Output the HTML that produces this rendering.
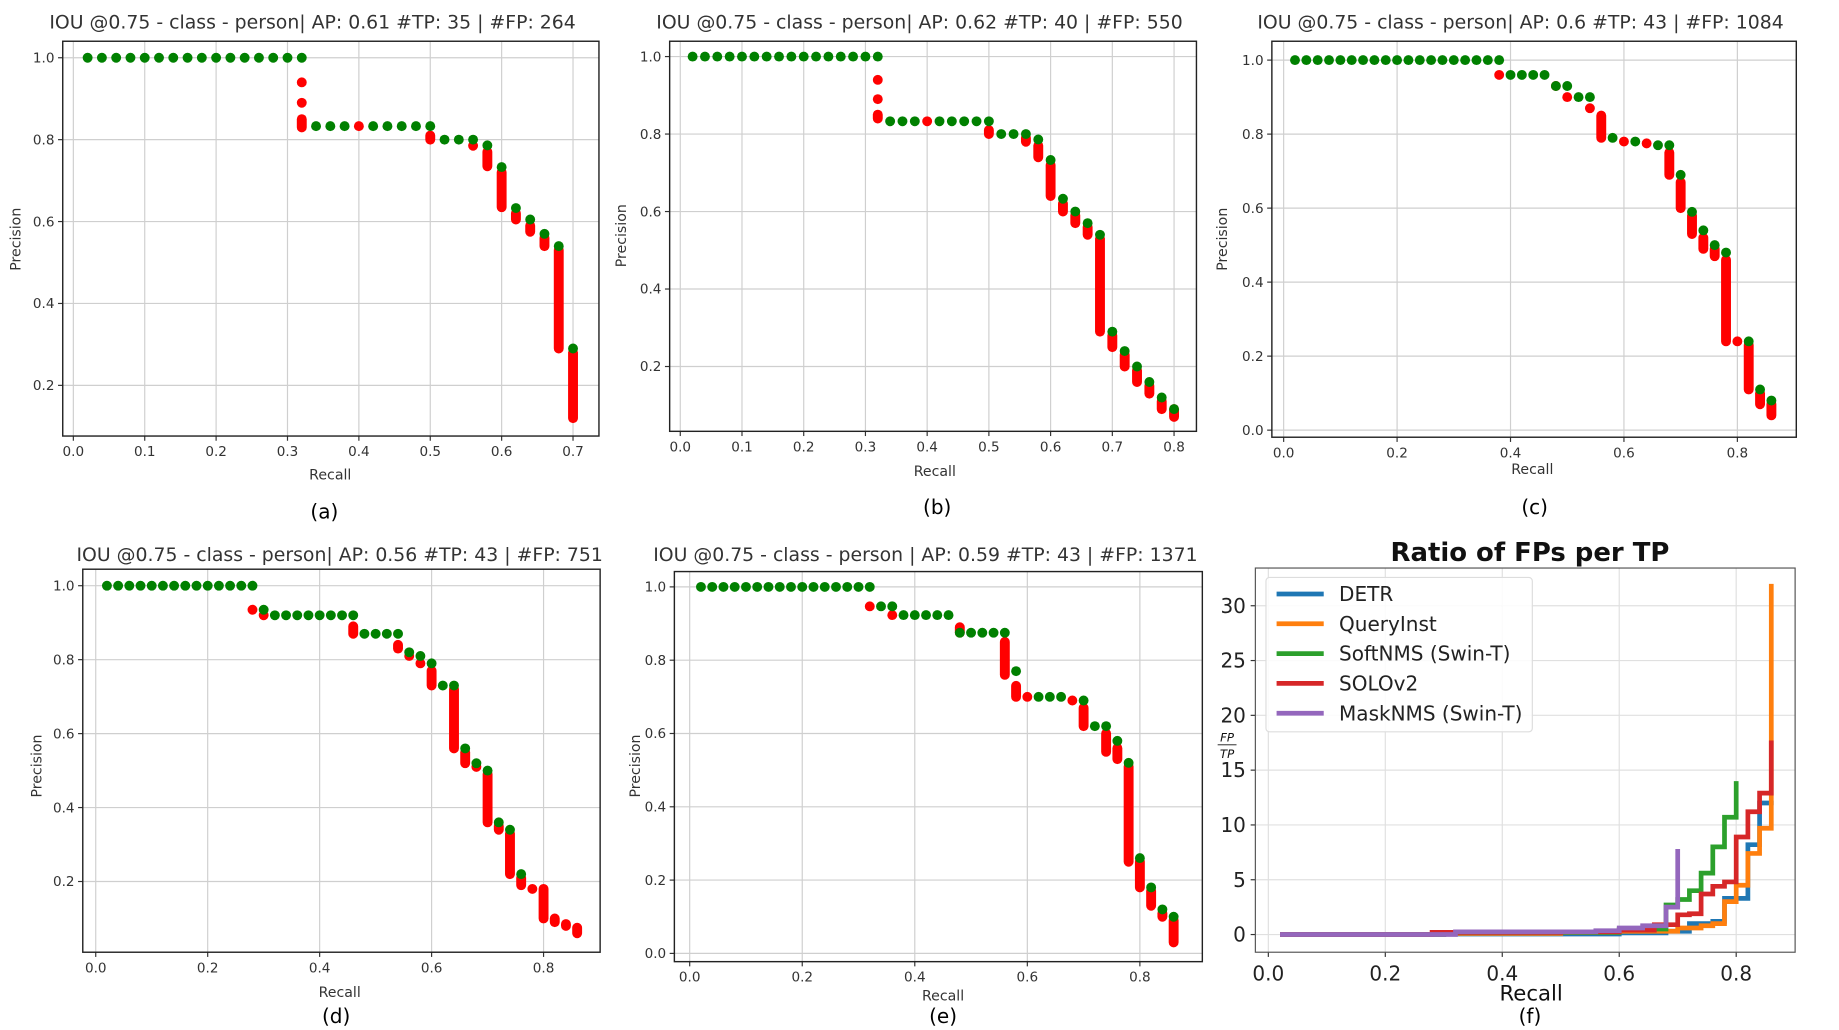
<!DOCTYPE html>
<html><head><meta charset="utf-8"><style>
html,body{margin:0;padding:0;background:#fff;}
svg{display:block;}
text{font-family:"DejaVu Sans","Liberation Sans",sans-serif;}
</style></head><body>
<svg id="fig" width="1839" height="1030" viewBox="0 0 1560 874" xmlns="http://www.w3.org/2000/svg"></svg>
<script>
// ---------- data ----------
// Panel a
const aTpRecall=[0.02,0.04,0.06,0.08,0.10,0.12,0.14,0.16,0.18,0.20,0.22,0.24,0.26,0.28,0.30,0.32,0.34,0.36,0.38,0.42,0.44,0.46,0.48,0.50,0.52,0.54,0.56,0.58,0.60,0.62,0.64,0.66,0.68,0.70];
const aTpPrec=[1,1,1,1,1,1,1,1,1,1,1,1,1,1,1,1,0.833,0.833,0.833,0.833,0.833,0.833,0.833,0.833,0.80,0.80,0.80,0.786,0.733,0.633,0.605,0.57,0.54,0.29];
const aFpRecall=[0.32,0.32,0.32,0.40,0.50,0.56,0.58,0.60,0.62,0.64,0.66,0.68,0.70];
const aFpTop=[0.94,0.89,0.85,0.833,0.81,0.785,0.77,0.72,0.62,0.59,0.56,0.53,0.28];
const aFpBot=[0.94,0.89,0.83,0.833,0.80,0.785,0.735,0.635,0.605,0.575,0.54,0.29,0.12];
// Panel b
const bTpRecall=[0.02,0.04,0.06,0.08,0.10,0.12,0.14,0.16,0.18,0.20,0.22,0.24,0.26,0.28,0.30,0.32,0.34,0.36,0.38,0.42,0.44,0.46,0.48,0.50,0.52,0.54,0.56,0.58,0.60,0.62,0.64,0.66,0.68,0.70,0.72,0.74,0.76,0.78,0.80];
const bTpPrec=[1,1,1,1,1,1,1,1,1,1,1,1,1,1,1,1,0.833,0.833,0.833,0.833,0.833,0.833,0.833,0.833,0.80,0.80,0.80,0.786,0.733,0.633,0.60,0.57,0.54,0.29,0.24,0.20,0.16,0.12,0.09];
const bFpRecall=[0.32,0.32,0.32,0.40,0.50,0.56,0.58,0.60,0.62,0.64,0.66,0.68,0.70,0.72,0.74,0.76,0.78,0.80];
const bFpTop=[0.94,0.89,0.85,0.833,0.81,0.79,0.77,0.72,0.62,0.59,0.56,0.53,0.28,0.23,0.19,0.15,0.11,0.09];
const bFpBot=[0.94,0.89,0.84,0.833,0.80,0.78,0.74,0.64,0.60,0.57,0.54,0.29,0.25,0.20,0.16,0.13,0.09,0.07];
// Panel c
const cTpRecall=[0.02,0.04,0.06,0.08,0.10,0.12,0.14,0.16,0.18,0.20,0.22,0.24,0.26,0.28,0.30,0.32,0.34,0.36,0.38,0.40,0.42,0.44,0.46,0.48,0.50,0.52,0.54,0.58,0.62,0.66,0.68,0.70,0.72,0.74,0.76,0.78,0.82,0.84,0.86];
const cTpPrec=[1,1,1,1,1,1,1,1,1,1,1,1,1,1,1,1,1,1,1,0.96,0.96,0.96,0.96,0.93,0.93,0.90,0.90,0.79,0.78,0.77,0.77,0.69,0.59,0.54,0.50,0.48,0.24,0.11,0.08];
const cFpRecall=[0.38,0.48,0.50,0.54,0.56,0.60,0.64,0.68,0.70,0.72,0.74,0.76,0.78,0.80,0.82,0.84,0.86];
const cFpTop=[0.96,0.93,0.90,0.87,0.85,0.78,0.775,0.75,0.67,0.58,0.52,0.49,0.46,0.24,0.23,0.10,0.07];
const cFpBot=[0.96,0.93,0.90,0.87,0.79,0.78,0.775,0.69,0.60,0.53,0.49,0.47,0.24,0.24,0.11,0.07,0.04];
// Panel d
const dTpRecall=[0.02,0.04,0.06,0.08,0.10,0.12,0.14,0.16,0.18,0.20,0.22,0.24,0.26,0.28,0.30,0.32,0.34,0.36,0.38,0.40,0.42,0.44,0.46,0.48,0.50,0.52,0.54,0.56,0.58,0.60,0.62,0.64,0.66,0.68,0.70,0.72,0.74,0.76];
const dTpPrec=[1,1,1,1,1,1,1,1,1,1,1,1,1,1,0.935,0.92,0.92,0.92,0.92,0.92,0.92,0.92,0.92,0.87,0.87,0.87,0.87,0.82,0.81,0.79,0.73,0.73,0.56,0.52,0.50,0.36,0.34,0.22];
const dFpRecall=[0.28,0.30,0.46,0.54,0.56,0.58,0.60,0.64,0.66,0.68,0.70,0.72,0.74,0.76,0.78,0.80,0.82,0.84,0.86];
const dFpTop=[0.935,0.92,0.89,0.84,0.81,0.79,0.77,0.72,0.55,0.51,0.49,0.35,0.33,0.21,0.18,0.18,0.10,0.085,0.075];
const dFpBot=[0.935,0.92,0.87,0.83,0.81,0.79,0.73,0.56,0.52,0.51,0.36,0.34,0.22,0.19,0.18,0.10,0.09,0.08,0.06];
// Panel e
const eTpRecall=[0.02,0.04,0.06,0.08,0.10,0.12,0.14,0.16,0.18,0.20,0.22,0.24,0.26,0.28,0.30,0.32,0.34,0.36,0.38,0.40,0.42,0.44,0.46,0.48,0.50,0.52,0.54,0.56,0.58,0.62,0.64,0.66,0.70,0.72,0.74,0.76,0.78,0.80,0.82,0.84,0.86];
const eTpPrec=[1,1,1,1,1,1,1,1,1,1,1,1,1,1,1,1,0.947,0.947,0.923,0.923,0.923,0.923,0.923,0.875,0.875,0.875,0.875,0.875,0.77,0.70,0.70,0.70,0.69,0.62,0.62,0.58,0.52,0.26,0.18,0.12,0.10];
const eFpRecall=[0.32,0.36,0.48,0.56,0.58,0.60,0.68,0.70,0.74,0.76,0.78,0.80,0.82,0.84,0.86];
const eFpTop=[0.947,0.923,0.89,0.85,0.73,0.70,0.69,0.67,0.60,0.56,0.51,0.25,0.17,0.11,0.09];
const eFpBot=[0.947,0.923,0.875,0.76,0.70,0.70,0.69,0.62,0.55,0.53,0.25,0.18,0.13,0.10,0.03];
// Panel f
const fSeriesNames=["DETR","QueryInst","SoftNMS (Swin-T)","SOLOv2","MaskNMS (Swin-T)"];
const detrX=[0.02,0.30,0.60,0.68,0.72,0.76,0.78,0.82,0.84,0.86];
const detrY=[0,0.05,0.15,0.3,1.0,1.2,3.3,8.2,12.0,11.8];
const queryX=[0.02,0.30,0.50,0.60,0.70,0.74,0.76,0.78,0.80,0.82,0.84,0.86,0.86];
const queryY=[0,0.1,0.2,0.3,0.6,0.8,1.0,3.0,4.5,7.4,9.7,9.7,32];
const softX=[0.02,0.30,0.60,0.68,0.70,0.72,0.74,0.76,0.78,0.80];
const softY=[0,0.2,0.5,2.7,3.2,4.0,5.6,8.0,10.7,14.0];
const soloX=[0.02,0.28,0.50,0.60,0.66,0.70,0.72,0.74,0.76,0.78,0.80,0.82,0.84,0.86];
const soloY=[0,0.2,0.25,0.4,0.9,1.8,1.9,3.7,4.4,4.8,8.9,11.2,12.9,17.7];
const maskX=[0.02,0.32,0.56,0.60,0.64,0.68,0.70];
const maskY=[0,0.25,0.35,0.6,0.8,2.5,7.8];
const fColors=["#1f77b4","#ff7f0e","#2ca02c","#d62728","#9467bd"];
const fTicksX=[0.0,0.2,0.4,0.6,0.8];
const fTicksY=[0,5,10,15,20,25,30];

// ---------- helpers ----------
const NS="http://www.w3.org/2000/svg";
const svg=document.getElementById('fig');
function mk(tag,attrs,parent){const e=document.createElementNS(NS,tag);for(const k in attrs)e.setAttribute(k,attrs[k]);(parent||svg).appendChild(e);return e;}
function lin(v0,p0,v1,p1){return v=>p0+(v-v0)*(p1-p0)/(v1-v0);}
function fmt(v,d){return v.toFixed(d);}

function prPanel(cfg){
  const g=mk('g',{});
  
  
  const X=lin(0,cfg.x0,cfg.xv1,cfg.x1), Y=lin(cfg.yv0,cfg.y0,1.0,cfg.y1);
  const [L,T,R,B]=cfg.box;
  // grid
  cfg.xt.forEach(v=>{const l=mk('line',{x1:X(v),x2:X(v),y1:T,y2:B,stroke:'#cfcfcf','stroke-width':1},g);
    
    const t=mk('text',{x:X(v),y:B+17,'font-size':11.5,'text-anchor':'middle',fill:'#333'},g);t.textContent=fmt(v,1);
    
    mk('line',{x1:X(v),x2:X(v),y1:B,y2:B+4,stroke:'#333'},g);});
  cfg.yt.forEach(v=>{const l=mk('line',{x1:L,x2:R,y1:Y(v),y2:Y(v),stroke:'#cfcfcf','stroke-width':1},g);
    
    const t=mk('text',{x:L-7,y:Y(v)+4,'font-size':11.5,'text-anchor':'end',fill:'#333'},g);t.textContent=fmt(v,1);
    
    mk('line',{x1:L-4,x2:L,y1:Y(v),y2:Y(v),stroke:'#333'},g);});
  // marks
  cfg.fpR.forEach((r,i)=>{const l=mk('line',{x1:X(r),x2:X(r),y1:Y(cfg.fpT[i]),y2:Y(cfg.fpB[i]),stroke:'#ff0000','stroke-width':8.4,'stroke-linecap':'round'},g);
    });
  cfg.tpR.forEach((r,i)=>{const c=mk('circle',{cx:X(r),cy:Y(cfg.tpP[i]),r:4.2,fill:'#008000'},g);
    });
  // redraw FP runs below the green top (green sits on top only at its own position)
  const box=mk('rect',{x:L,y:T,width:R-L,height:B-T,fill:'none',stroke:'#222','stroke-width':1.2},g);
  
  const tt=mk('text',{x:cfg.title[0],y:cfg.title[1],'font-size':16,'text-anchor':'middle',fill:'#333'},g);tt.textContent=cfg.titleText;
  
  const xl=mk('text',{x:cfg.xlab[0],y:cfg.xlab[1],'font-size':12,'text-anchor':'middle',fill:'#333'},g);xl.textContent='Recall';
  
  const yl=mk('text',{x:0,y:0,'font-size':12,'text-anchor':'middle',fill:'#333',transform:`translate(${cfg.ylab[0]},${cfg.ylab[1]}) rotate(-90)`},g);yl.textContent='Precision';
  
  const cp=mk('text',{x:cfg.cap[0],y:cfg.cap[1],'font-size':17,'text-anchor':'middle',fill:'#000'},g);cp.textContent=cfg.capText;
  
}
const t1=[0,.1,.2,.3,.4,.5,.6,.7], t1b=[0,.1,.2,.3,.4,.5,.6,.7,.8], t2=[0,.2,.4,.6,.8], yA=[.2,.4,.6,.8,1.0], yB=[0,.2,.4,.6,.8,1.0];
prPanel({name:'panel-a',x0:62,xv1:0.7,x1:486,yv0:0.2,y0:327,y1:49,box:[53,35,508,370],xt:t1,yt:yA,
 tpR:aTpRecall,tpP:aTpPrec,fpR:aFpRecall,fpT:aFpTop,fpB:aFpBot,title:[265,24],titleText:'IOU @0.75 - class - person| AP: 0.61 #TP: 35 | #FP: 264',xlab:[280,407],ylab:[17,203],cap:[275,440],capText:'(a)'});
prPanel({name:'panel-b',x0:577,xv1:0.8,x1:996,yv0:0.2,y0:311,y1:48,box:[568,35,1015,366],xt:t1b,yt:yA,
 tpR:bTpRecall,tpP:bTpPrec,fpR:bFpRecall,fpT:bFpTop,fpB:bFpBot,title:[780,24],titleText:'IOU @0.75 - class - person| AP: 0.62 #TP: 40 | #FP: 550',xlab:[793,404],ylab:[531,200],cap:[795,436],capText:'(b)'});
prPanel({name:'panel-c',x0:1089,xv1:0.8,x1:1474,yv0:0,y0:365,y1:51,box:[1079,35,1524,371],xt:t2,yt:yB,
 tpR:cTpRecall,tpP:cTpPrec,fpR:cFpRecall,fpT:cFpTop,fpB:cFpBot,title:[1290,24],titleText:'IOU @0.75 - class - person| AP: 0.6 #TP: 43 | #FP: 1084',xlab:[1300,402],ylab:[1041,203],cap:[1302,436],capText:'(c)'});
prPanel({name:'panel-d',x0:81,xv1:0.8,x1:461,yv0:0.2,y0:748,y1:497,box:[70,483,509,808],xt:t2,yt:yA,
 tpR:dTpRecall,tpP:dTpPrec,fpR:dFpRecall,fpT:dFpTop,fpB:dFpBot,title:[288,476],titleText:'IOU @0.75 - class - person| AP: 0.56 #TP: 43 | #FP: 751',xlab:[288,846],ylab:[35,650],cap:[285,868],capText:'(d)'});
prPanel({name:'panel-e',x0:585,xv1:0.8,x1:967,yv0:0,y0:809,y1:498,box:[572,485,1020,816],xt:t2,yt:yB,
 tpR:eTpRecall,tpP:eTpPrec,fpR:eFpRecall,fpT:eFpTop,fpB:eFpBot,title:[785,476],titleText:'IOU @0.75 - class - person | AP: 0.59 #TP: 43 | #FP: 1371',xlab:[800,849],ylab:[543,650],cap:[800,868],capText:'(e)'});

// ---------- panel f ----------
(function(){
  const g=mk('g',{});
  
  
  const X=lin(0,1076,0.8,1473), Y=lin(0,793,30,514);
  const L=1065,T=482,R=1523,B=808;
  fTicksX.forEach(v=>{const l=mk('line',{x1:X(v),x2:X(v),y1:T,y2:B,stroke:'#e0e0e0'},g);
    
    mk('line',{x1:X(v),x2:X(v),y1:B,y2:B+4,stroke:'#333'},g);
    const t=mk('text',{x:X(v),y:B+24,'font-size':17,'text-anchor':'middle',fill:'#222'},g);t.textContent=fmt(v,1);
    });
  fTicksY.forEach(v=>{const l=mk('line',{x1:L,x2:R,y1:Y(v),y2:Y(v),stroke:'#e0e0e0'},g);
    
    mk('line',{x1:L-4,x2:L,y1:Y(v),y2:Y(v),stroke:'#333'},g);
    const t=mk('text',{x:L-8,y:Y(v)+6,'font-size':17,'text-anchor':'end',fill:'#222'},g);t.textContent=String(v);
    });
  const xs=[detrX,queryX,softX,soloX,maskX], ys=[detrY,queryY,softY,soloY,maskY];
  xs.forEach((xa,s)=>{const ya=ys[s];let d=`M${X(xa[0])},${Y(ya[0])}`;
    for(let i=1;i<xa.length;i++){d+=` H${X(xa[i])} V${Y(ya[i])}`;}
    const p=mk('path',{d:d,fill:'none',stroke:fColors[s],'stroke-width':4,'stroke-linejoin':'miter'},g);
    });
  const box=mk('rect',{x:L,y:T,width:R-L,height:B-T,fill:'none',stroke:'#555','stroke-width':1},g);
  
  const lg=mk('g',{},g);
  
  mk('rect',{x:1074,y:490,width:226,height:131,rx:3,fill:'#fff','fill-opacity':0.85,stroke:'#ddd'},lg);
  fSeriesNames.forEach((n,i)=>{const yy=504+i*25.3;
    const e=mk('g',{},lg);
    
    mk('line',{x1:1083,x2:1123,y1:yy,y2:yy,stroke:fColors[i],'stroke-width':4},e);
    const t=mk('text',{x:1136,y:yy+6,'font-size':17,fill:'#222'},e);t.textContent=n;});
  const tt=mk('text',{x:1298,y:476,'font-size':22,'font-weight':'bold','text-anchor':'middle',fill:'#111'},g);tt.textContent='Ratio of FPs per TP';
  
  const xl=mk('text',{x:1299,y:849,'font-size':18,'text-anchor':'middle',fill:'#111'},g);xl.textContent='Recall';
  
  const yl=mk('g',{},g);
  
  const a=mk('text',{x:1041,y:629,'font-size':10,'font-style':'italic','text-anchor':'middle',fill:'#111'},yl);a.textContent='FP';
  mk('line',{x1:1033,x2:1049,y1:632,y2:632,stroke:'#111','stroke-width':0.8},yl);
  const b=mk('text',{x:1041,y:643,'font-size':10,'font-style':'italic','text-anchor':'middle',fill:'#111'},yl);b.textContent='TP';
  const cp=mk('text',{x:1298,y:868,'font-size':17,'text-anchor':'middle',fill:'#000'},g);cp.textContent='(f)';
  
})();
</script>
</body></html>
